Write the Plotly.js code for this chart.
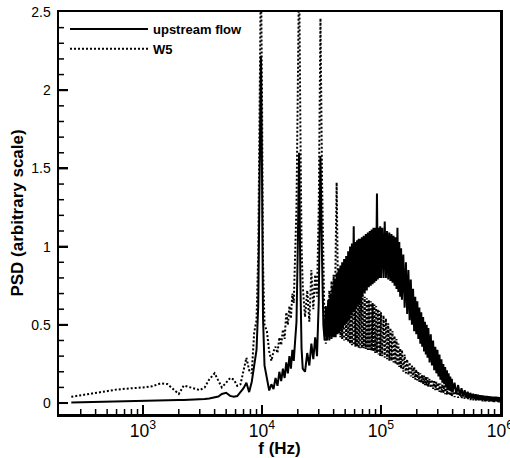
<!DOCTYPE html>
<html><head><meta charset="utf-8">
<script src="https://cdn.plot.ly/plotly-3.0.1.min.js"></script>
<style>html,body{margin:0;padding:0;background:#fff} #wrap{position:relative;width:510px;height:458px} #tickOverlay{position:absolute;left:0;top:0;pointer-events:none}</style>
</head><body><div id="wrap"><div id="chart" style="width:510px;height:458px"></div></div>
<script>
const seriesNames = ['upstream flow', 'W5'];
const majorXTicks = [1000, 10000, 100000];
const minorXTicks = [300,400,500,600,700,800,900, 2000,3000,4000,5000,6000,7000,8000,9000,
  20000,30000,40000,50000,60000,70000,80000,90000, 200000,300000,400000,500000,600000,700000,800000,900000];
const majorYTicks = [0, 0.5, 1, 1.5, 2];
const minorYTicks = [0.1,0.2,0.3,0.4, 0.6,0.7,0.8,0.9, 1.1,1.2,1.3,1.4, 1.6,1.7,1.8,1.9, 2.1,2.2,2.3,2.4];

const freqHz = [
 250,300,400,500,600,700,800,1000,1200,1400,1600,1800,2000,2200,2500,2800,3000,3300,3600,4000,
 4300,4600,5000,5400,5800,6200,6600,7000,7400,7800,8200,8600,9000,9300,9600,9800,10000,10200,10500,11000,
 11500,12000,12500,13000,13500,14000,14500,15000,15500,16000,16500,17000,17500,18000,18500,19000,19500,20000,20500,21000,
 21500,22000,23000,24000,25000,26000,27000,28000,29000,30000,31000,
 32000,32800,33600,34400,35200,36000,36800,37600,38400,39200,40000,40800,41600,42400,43200,44000,44800,45600,46400,47200,48000,
 49000,50000,51000,52000,53000,54000,55000,56000,57000,58000,59000,60000,61000,62000,63000,64000,65000,66000,67000,68000,69000,70000,
 71500,73000,74500,76000,77500,79000,80500,82000,83500,85000,86500,88000,89500,91000,92500,94000,95500,97000,98500,100000,
 102500,105000,107500,110000,112500,115000,117500,120000,122500,125000,127500,130000,132500,135000,137500,140000,142500,145000,147500,150000,
 154000,158000,162000,166000,170000,174000,178000,182000,186000,190000,194000,198000,202000,206000,210000,214000,218000,222000,226000,230000,234000,238000,242000,246000,250000,
 256000,262000,268000,274000,280000,286000,292000,298000,304000,310000,316000,322000,328000,334000,340000,346000,352000,358000,364000,370000,376000,382000,388000,394000,400000,
 415000,430000,445000,460000,475000,490000,505000,520000,535000,550000,565000,580000,595000,610000,625000,640000,655000,670000,685000,700000,
 715000,730000,745000,760000,775000,790000,805000,820000,835000,850000,865000,880000,895000,910000,925000,940000,955000,970000,985000,1000000
];

const upstreamPSD = [
 0.004,0.005,0.006,0.007,0.008,0.009,0.010,0.012,0.014,0.016,0.017,0.018,0.019,0.020,0.021,0.022,0.024,0.026,0.029,0.034,
 0.042,0.058,0.066,0.046,0.040,0.045,0.070,0.095,0.13,0.07,0.135,0.23,0.34,0.62,1.5,2.22,1.5,0.55,0.24,0.15,
 0.08,0.12,0.09,0.16,0.11,0.20,0.14,0.22,0.16,0.26,0.19,0.30,0.22,0.34,0.27,0.40,0.52,1.0,1.6,0.8,
 0.35,0.22,0.20,0.32,0.24,0.38,0.28,0.42,0.30,0.65,1.58,
 0.9,0.5,0.40,0.62,0.40,0.66,0.40,0.70,0.41,0.75,0.42,0.79,0.42,0.83,0.44,0.86,0.45,0.88,0.46,0.90,0.48,
 0.92,0.50,0.94,0.52,0.97,0.53,1.00,0.56,1.02,0.58,1.13,0.60,1.03,0.61,1.04,0.63,1.05,0.64,1.05,0.66,1.06,0.68,
 1.07,0.70,1.08,0.72,1.09,0.74,1.10,0.75,1.11,0.76,1.12,0.77,1.12,0.78,1.34,0.79,1.12,0.80,1.13,0.80,
 1.12,0.80,1.16,0.80,1.10,0.79,1.09,0.78,1.08,0.77,1.07,0.75,1.06,0.73,1.12,0.71,1.03,0.68,0.99,0.66,
 0.95,0.61,0.90,0.57,0.85,0.53,0.79,0.50,0.73,0.46,0.68,0.44,0.65,0.41,0.61,0.38,0.58,0.36,0.55,0.33,0.52,0.31,0.50,0.29,0.48,
 0.26,0.44,0.24,0.40,0.21,0.36,0.19,0.34,0.17,0.31,0.15,0.28,0.13,0.25,0.12,0.23,0.10,0.21,0.09,0.19,0.085,0.17,0.075,0.155,0.07,
 0.13,0.058,0.115,0.048,0.095,0.042,0.082,0.036,0.072,0.032,0.065,0.029,0.060,0.026,0.057,0.024,0.053,0.021,0.050,0.020,
 0.048,0.019,0.046,0.018,0.045,0.017,0.043,0.016,0.042,0.015,0.041,0.014,0.040,0.013,0.040,0.013,0.039,0.012,0.038,0.012
];

const w5PSD = [
 0.04,0.05,0.068,0.078,0.086,0.091,0.094,0.10,0.108,0.125,0.122,0.09,0.058,0.112,0.10,0.086,0.083,0.10,0.15,0.19,
 0.14,0.10,0.13,0.16,0.15,0.11,0.12,0.22,0.29,0.21,0.19,0.45,0.53,0.95,1.9,2.8,2.0,0.9,0.5,0.46,
 0.33,0.27,0.33,0.36,0.32,0.42,0.37,0.47,0.41,0.58,0.50,0.62,0.54,0.70,0.64,0.90,1.25,2.0,2.8,1.8,
 1.0,0.75,0.55,0.72,0.52,0.85,0.60,0.82,0.68,1.25,2.46,
 1.4,0.8,0.45,0.38,0.60,0.42,0.72,0.44,0.78,0.46,0.82,0.50,0.95,1.41,0.9,0.45,0.72,0.42,0.73,0.41,0.74,
 0.40,0.75,0.40,0.74,0.39,0.73,0.38,0.73,0.37,0.72,0.37,0.72,0.36,0.71,0.36,0.70,0.35,0.70,0.35,0.69,0.35,0.69,
 0.35,0.68,0.345,0.67,0.34,0.66,0.34,0.65,0.335,0.64,0.33,0.63,0.32,0.62,0.32,0.60,0.31,0.59,0.30,0.58,
 0.30,0.56,0.29,0.54,0.28,0.51,0.27,0.48,0.27,0.46,0.26,0.43,0.25,0.41,0.24,0.38,0.23,0.35,0.22,0.34,
 0.20,0.31,0.19,0.28,0.18,0.26,0.17,0.24,0.16,0.23,0.15,0.215,0.145,0.20,0.135,0.19,0.13,0.18,0.12,0.175,0.115,0.17,0.11,0.165,0.105,
 0.155,0.098,0.15,0.09,0.14,0.082,0.135,0.077,0.13,0.072,0.125,0.067,0.12,0.062,0.115,0.057,0.11,0.053,0.105,0.05,0.10,0.046,0.097,0.043,0.094,
 0.038,0.087,0.034,0.078,0.030,0.072,0.026,0.066,0.022,0.060,0.020,0.057,0.018,0.054,0.016,0.051,0.014,0.048,0.012,0.045,
 0.011,0.043,0.010,0.042,0.009,0.041,0.009,0.039,0.008,0.038,0.007,0.037,0.007,0.036,0.006,0.035,0.006,0.034,0.005,0.033
];

const FONT = 'Liberation Sans, Arial, Helvetica, sans-serif';

const traces = [
  {x: freqHz, y: upstreamPSD, name: '<b>' + seriesNames[0] + '</b>', type: 'scatter', mode: 'lines',
   line: {color: '#000', width: 2}},
  {x: freqHz, y: w5PSD, name: '<b>' + seriesNames[1] + '</b>', type: 'scatter', mode: 'lines',
   line: {color: '#000', width: 2, dash: '2px,2px'}}
];

const layout = {
  width: 510, height: 458,
  margin: {l: 59, r: 10, t: 12, b: 44, pad: 0},
  font: {family: FONT, color: '#000', size: 14},
  showlegend: true,
  legend: {x: 0.0136, y: 0.995, xanchor: 'left', yanchor: 'top', bgcolor: 'rgba(0,0,0,0)',
           borderwidth: 0, itemwidth: 78, tracegroupgap: 0,
           font: {family: FONT, size: 13, color: '#000'}},
  xaxis: {
    type: 'log', range: [Math.log10(197), 6], dtick: 1, exponentformat: 'power',
    ticks: 'inside', ticklen: 9, tickwidth: 2, tickcolor: '#000', ticklabeloverflow: 'allow',
    showline: true, linewidth: 2.5, linecolor: '#000', mirror: true,
    showgrid: false, zeroline: false,
    tickfont: {family: FONT, size: 14, color: '#000'},
    title: {text: '<b>f (Hz)</b>', font: {family: FONT, size: 17, color: '#000'}, standoff: 2}
  },
  yaxis: {
    range: [-0.07, 2.5], dtick: 0.5,
    ticks: 'inside', ticklen: 9, tickwidth: 2, tickcolor: '#000',
    showline: true, linewidth: 2.5, linecolor: '#000', mirror: true,
    showgrid: false, zeroline: false,
    ticklabelstandoff: 3,
    tickfont: {family: FONT, size: 14, color: '#000'},
    title: {text: '<b>PSD (arbitrary scale)</b>', font: {family: FONT, size: 17, color: '#000'}, standoff: 4}
  }
};

function drawTickOverlay(gd) {
  const xa = gd._fullLayout.xaxis, ya = gd._fullLayout.yaxis;
  const left = xa._offset, bottom = ya._offset + ya._length;
  const NS = 'http://www.w3.org/2000/svg';
  const svg = document.createElementNS(NS, 'svg');
  svg.setAttribute('id', 'tickOverlay');
  svg.setAttribute('width', 510); svg.setAttribute('height', 458);
  const add = (x1, y1, x2, y2, w) => {
    const l = document.createElementNS(NS, 'line');
    l.setAttribute('x1', x1); l.setAttribute('y1', y1); l.setAttribute('x2', x2); l.setAttribute('y2', y2);
    l.setAttribute('stroke', '#000'); l.setAttribute('stroke-width', w);
    svg.appendChild(l);
  };
  majorXTicks.forEach(v => { const px = xa._offset + xa.l2p(Math.log10(v)); add(px, bottom, px, bottom - 9, 2); });
  minorXTicks.forEach(v => { const px = xa._offset + xa.l2p(Math.log10(v)); add(px, bottom, px, bottom - 5, 1.5); });
  majorYTicks.forEach(v => { const py = ya._offset + ya.l2p(v); add(left, py, left + 9, py, 2); });
  minorYTicks.forEach(v => { const py = ya._offset + ya.l2p(v); add(left, py, left + 5, py, 1.5); });
  document.getElementById('wrap').appendChild(svg);
}

Plotly.newPlot('chart', traces, layout, {displayModeBar: false, staticPlot: true})
  .then(gd => drawTickOverlay(gd));
</script></body></html>
